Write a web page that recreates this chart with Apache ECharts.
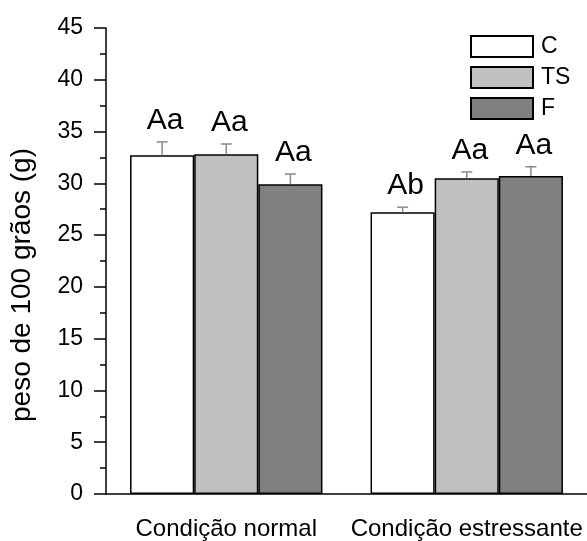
<!DOCTYPE html>
<html>
<head>
<meta charset="utf-8">
<script src="https://cdn.jsdelivr.net/npm/echarts@6/dist/echarts.min.js"></script>
<style>
  html, body { margin: 0; padding: 0; background: #fff; }
  #chart { width: 587px; height: 541px; }
</style>
</head>
<body>
<div id="chart"></div>
<script>
const categories = ['Condição normal', 'Condição estressante'];
const groupNames = ['C', 'TS', 'F'];
const groupColors = ['#ffffff', '#c0c0c0', '#808080'];
const valuesC = [32.7, 27.2];
const valuesTS = [32.8, 30.5];
const valuesF = [29.9, 30.7];
const errC = [1.3, 0.5];
const errTS = [1.0, 0.6];
const errF = [1.0, 0.9];
const lettersC = ['Aa', 'Ab'];
const lettersTS = ['Aa', 'Aa'];
const lettersF = ['Aa', 'Aa'];
const yTicks = { min: 0, max: 45, interval: 5 };

const FONT = 'Liberation Sans, Arial, sans-serif';
const allValues = [valuesC, valuesTS, valuesF];
const allErrs = [errC, errTS, errF];
const allLetters = [lettersC, lettersTS, lettersF];

// one row per bar: [category index, group index, mean, error]
const errData = [];
const errLabels = [];
allValues.forEach((vals, k) => {
    vals.forEach((v, i) => {
        errData.push([i, k, v, allErrs[k][i]]);
        errLabels.push(allLetters[k][i]);
    });
});

function renderErrorBar(params, api) {
    const cat = api.value(0), k = api.value(1), mean = api.value(2), err = api.value(3);
    const bw = api.size([1, 0])[0] * 0.8 / 3;
    const base = api.coord([cat, mean]);
    const x = base[0] + (k - 1) * bw;
    const top = api.coord([cat, mean + err])[1];
    const half = 5.5;
    const st = { stroke: '#8a8a8a', lineWidth: 1.5 };
    return {
        type: 'group',
        children: [
            { type: 'line', shape: { x1: x, y1: base[1], x2: x, y2: top }, style: st },
            { type: 'line', shape: { x1: x - half, y1: top, x2: x + half, y2: top }, style: st },
            {
                type: 'text', x: x + 3, y: top - 6,
                style: {
                    text: errLabels[params.dataIndex], fill: '#000',
                    font: '30px ' + FONT, align: 'center', verticalAlign: 'bottom'
                }
            }
        ]
    };
}

const chart = echarts.init(document.getElementById('chart'));
chart.setOption({
    backgroundColor: '#fff',
    animation: false,
    textStyle: { fontFamily: FONT, color: '#000' },
    grid: { left: 106, right: -4, top: 28, bottom: 45 },
    legend: {
        data: groupNames,
        orient: 'vertical',
        left: 465, top: 30,
        itemWidth: 62, itemHeight: 21, itemGap: 8,
        icon: 'rect',
        textStyle: { fontSize: 23, color: '#000', fontFamily: FONT, padding: [0, 0, 0, 3] }
    },
    xAxis: [{
        type: 'category',
        data: categories,
        axisLine: { lineStyle: { color: '#000', width: 1.5 } },
        axisTick: { alignWithLabel: true, length: 12, lineStyle: { color: '#000', width: 1.5 } },
        axisLabel: { interval: 0, fontSize: 24, color: '#000', margin: 23, fontFamily: FONT }
    }, {
        type: 'category',
        data: categories,
        position: 'bottom',
        axisLine: { show: false },
        axisTick: { length: 6, lineStyle: { color: '#000', width: 1.5 } },
        axisLabel: { show: false }
    }],
    yAxis: {
        type: 'value',
        min: yTicks.min, max: yTicks.max, interval: yTicks.interval,
        name: 'peso de 100 grãos (g)',
        nameLocation: 'middle',
        nameGap: 70,
        nameTextStyle: { fontSize: 28, color: '#000', fontFamily: FONT, padding: [0, 48, 0, 0] },
        axisLine: { show: true, lineStyle: { color: '#000', width: 1.5 } },
        axisTick: { show: true, length: 12, lineStyle: { color: '#000', width: 1.5 } },
        minorTick: { show: true, splitNumber: 2, length: 6, lineStyle: { color: '#000', width: 1.5 } },
        axisLabel: { fontSize: 23, color: '#000', margin: 23, fontFamily: FONT },
        splitLine: { show: false }
    },
    series: allValues.map((vals, k) => ({
        name: groupNames[k],
        type: 'bar',
        barGap: '0%',
        barCategoryGap: '20%',
        itemStyle: { color: groupColors[k], borderColor: '#000', borderWidth: 1.5 },
        data: vals
    })).concat([{
        type: 'custom',
        renderItem: renderErrorBar,
        encode: { x: 0, y: 2 },
        data: errData,
        z: 3
    }])
});
</script>
</body>
</html>
